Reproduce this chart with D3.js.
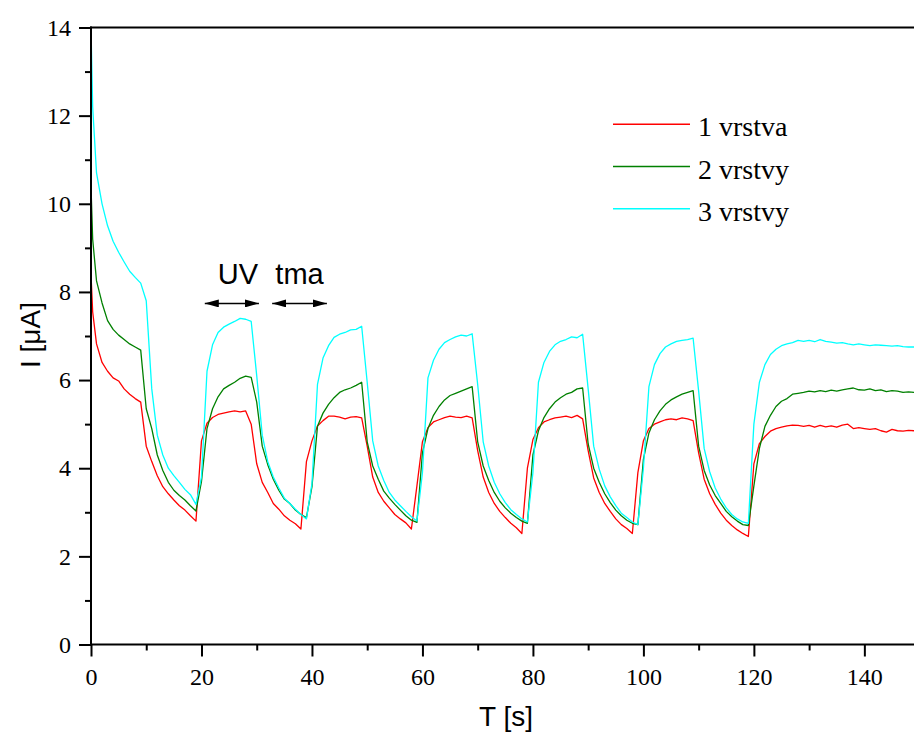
<!DOCTYPE html>
<html>
<head>
<meta charset="utf-8">
<script src="https://cdn.jsdelivr.net/npm/d3@7"></script>
<style>
html, body { margin: 0; padding: 0; background: #fff; }
svg { display: block; }
</style>
</head>
<body>
<svg id="chart" width="914" height="733"></svg>
<script>
// ---- data ----
const time = [0, 0.3, 1, 2, 3, 4, 5, 6, 7, 8,
  9, 10, 11, 12, 13, 14, 15, 16, 17, 18,
  19, 20, 21, 22, 23, 24, 25, 26, 27, 28,
  29, 30, 31, 32, 33, 34, 35, 36, 37, 38,
  39, 40, 41, 42, 43, 44, 45, 46, 47, 48,
  49, 50, 51, 52, 53, 54, 55, 56, 57, 58,
  59, 60, 61, 62, 63, 64, 65, 66, 67, 68,
  69, 70, 71, 72, 73, 74, 75, 76, 77, 78,
  79, 80, 81, 82, 83, 84, 85, 86, 87, 88,
  89, 90, 91, 92, 93, 94, 95, 96, 97, 98,
  99, 100, 101, 102, 103, 104, 105, 106, 107, 108,
  109, 110, 111, 112, 113, 114, 115, 116, 117, 118,
  119, 120, 121, 122, 123, 124, 125, 126, 127, 128,
  129, 130, 131, 132, 133, 134, 135, 136, 137, 138,
  139, 140, 141, 142, 143, 144, 145, 146, 147, 148,
  149, 150];

const vrstva1 = [8.4, 7.55, 6.82, 6.4, 6.2, 6.05, 5.98, 5.8, 5.68, 5.58,
  5.5, 4.5, 4.15, 3.83, 3.58, 3.42, 3.28, 3.15, 3.05, 2.92,
  2.8, 4.62, 5.02, 5.15, 5.22, 5.25, 5.28, 5.3, 5.28, 5.3,
  5.0, 4.1, 3.68, 3.45, 3.2, 3.07, 2.92, 2.82, 2.74, 2.62,
  4.15, 4.62, 4.96, 5.08, 5.18, 5.18, 5.16, 5.12, 5.16, 5.17,
  5.14, 4.5, 3.8, 3.45, 3.25, 3.1, 2.95, 2.85, 2.76, 2.62,
  3.6, 4.6, 4.92, 5.05, 5.1, 5.15, 5.18, 5.16, 5.15, 5.18,
  5.14, 4.4, 3.8, 3.45, 3.2, 3.02, 2.88, 2.75, 2.65, 2.52,
  4.0, 4.65, 4.92, 5.05, 5.1, 5.14, 5.16, 5.18, 5.15, 5.2,
  5.12, 4.4, 3.78, 3.45, 3.2, 3.02, 2.85, 2.72, 2.63, 2.52,
  3.9, 4.62, 4.9, 5.0, 5.05, 5.1, 5.12, 5.1, 5.14, 5.12,
  5.08, 4.35, 3.75, 3.42, 3.18, 2.98, 2.82, 2.7, 2.6, 2.52,
  2.45, 4.1, 4.56, 4.72, 4.84, 4.9, 4.93, 4.96, 4.98, 4.97,
  4.95, 4.97, 4.93, 4.97, 4.94, 4.96, 4.93, 4.98, 5.0, 4.9,
  4.92, 4.9, 4.88, 4.9, 4.85, 4.82, 4.88, 4.85, 4.84, 4.86,
  4.85, 4.85];

const vrstvy2 = [10.4, 9.2, 8.25, 7.75, 7.35, 7.15, 7.02, 6.92, 6.82, 6.75,
  6.68, 5.35, 4.9, 4.3, 3.95, 3.68, 3.5, 3.38, 3.28, 3.15,
  3.03, 3.7, 4.9, 5.35, 5.62, 5.8, 5.88, 5.95, 6.04, 6.09,
  6.06, 5.5, 4.5, 4.08, 3.75, 3.5, 3.3, 3.2, 3.05, 2.95,
  2.88, 3.58, 4.95, 5.25, 5.45, 5.6, 5.72, 5.78, 5.82, 5.88,
  5.95, 4.6, 4.05, 3.75, 3.48, 3.32, 3.18, 3.05, 2.92, 2.82,
  2.77, 4.35, 4.9, 5.2, 5.4, 5.55, 5.65, 5.7, 5.75, 5.8,
  5.85, 4.6, 4.05, 3.72, 3.45, 3.25, 3.1, 2.98, 2.88, 2.8,
  2.75, 4.3, 4.85, 5.15, 5.35, 5.5, 5.6, 5.68, 5.72, 5.8,
  5.82, 4.55, 4.0, 3.68, 3.42, 3.22, 3.05, 2.92, 2.82, 2.75,
  2.72, 4.2, 4.8, 5.1, 5.3, 5.45, 5.55, 5.62, 5.68, 5.72,
  5.76, 4.5, 3.95, 3.62, 3.38, 3.2, 3.02, 2.9, 2.8, 2.72,
  2.7, 3.6, 4.45, 4.95, 5.2, 5.4, 5.52, 5.58, 5.68, 5.7,
  5.72, 5.75, 5.73, 5.76, 5.74, 5.77, 5.75, 5.78, 5.8, 5.82,
  5.78, 5.77, 5.8, 5.76, 5.78, 5.74, 5.76, 5.75, 5.72, 5.73,
  5.72, 5.72];

const vrstvy3 = [14.0, 12.2, 10.7, 10.0, 9.5, 9.15, 8.9, 8.68, 8.47, 8.33,
  8.2, 7.8, 5.8, 4.75, 4.3, 4.0, 3.83, 3.68, 3.52, 3.4,
  3.18, 3.8, 6.2, 6.8, 7.08, 7.2, 7.27, 7.33, 7.4, 7.38,
  7.33, 6.1, 4.75, 4.15, 3.8, 3.55, 3.32, 3.2, 3.07, 2.95,
  2.85, 3.65, 5.9, 6.5, 6.78, 6.97, 7.04, 7.08, 7.14, 7.15,
  7.22, 5.95, 4.62, 4.05, 3.72, 3.45, 3.28, 3.15, 3.02, 2.9,
  2.8, 3.9, 6.05, 6.45, 6.7, 6.85, 6.92, 6.98, 7.02, 7.0,
  7.05, 5.9, 4.6, 4.05, 3.68, 3.42, 3.22, 3.06, 2.95, 2.85,
  2.78, 3.9, 5.95, 6.4, 6.65, 6.8, 6.88, 6.92, 6.98, 6.96,
  7.04, 5.8, 4.5, 3.98, 3.6, 3.35, 3.15, 2.98, 2.88, 2.78,
  2.72, 4.0, 5.85, 6.35, 6.6, 6.75, 6.82, 6.88, 6.9, 6.92,
  6.95, 5.75, 4.45, 3.92, 3.55, 3.3, 3.1, 2.95, 2.85, 2.78,
  2.75, 5.0, 5.95, 6.35, 6.58, 6.7, 6.78, 6.82, 6.85, 6.9,
  6.88, 6.9, 6.87, 6.92, 6.88, 6.86, 6.84, 6.85, 6.82, 6.8,
  6.82, 6.8, 6.78, 6.8, 6.79, 6.78, 6.77, 6.78, 6.76, 6.75,
  6.75, 6.75];

const seriesNames = ["1 vrstva", "2 vrstvy", "3 vrstvy"];
const seriesColors = ["#ff0000", "#008000", "#00ffff"];
const seriesValues = [vrstva1, vrstvy2, vrstvy3];

const xMajorTicks = [0, 20, 40, 60, 80, 100, 120, 140];
const xMinorTicks = [10, 30, 50, 70, 90, 110, 130, 150];
const yMajorTicks = [0, 2, 4, 6, 8, 10, 12, 14];
const yMinorTicks = [1, 3, 5, 7, 9, 11, 13];

// annotation: UV / tma periods (data coords)
const annoLabels = ["UV", "tma"];
const annoStart = [20.6, 32.8];
const annoEnd = [30.4, 42.7];
const annoArrowY = 7.74;
const annoTextY = 8.18;

// ---- drawing ----
const W = 914, H = 733;
const svg = d3.select("#chart");
const x = d3.scaleLinear().domain([0, 150]).range([91, 919.6]);
const y = d3.scaleLinear().domain([0, 14]).range([644.5, 27.5]);

const defs = svg.append("defs");
defs.append("clipPath").attr("id", "plotclip")
  .append("rect").attr("x", 91).attr("y", 26).attr("width", 840).attr("height", 619);

// lines
const line = d3.line().x((d, i) => x(time[i])).y(d => y(d));
const plot = svg.append("g").attr("clip-path", "url(#plotclip)");
seriesValues.forEach((vals, k) => {
  plot.append("path")
    .datum(vals)
    .attr("d", line)
    .attr("fill", "none")
    .attr("stroke", seriesColors[k])
    .attr("stroke-width", 1.3)
    .attr("stroke-linejoin", "round");
});

// axes
const serif = "'Liberation Serif', 'Times New Roman', serif";
const sans = "'Liberation Sans', Arial, sans-serif";

const xAxisMajor = d3.axisBottom(x).tickValues(xMajorTicks).tickSize(12).tickSizeOuter(0).tickPadding(6);
const xAxisMinor = d3.axisBottom(x).tickValues(xMinorTicks).tickSize(6).tickFormat("").tickSizeOuter(0);
const yAxisMajor = d3.axisLeft(y).tickValues(yMajorTicks).tickSize(12).tickSizeOuter(0).tickPadding(8);
const yAxisMinor = d3.axisLeft(y).tickValues(yMinorTicks).tickSize(6).tickFormat("").tickSizeOuter(0);

function styleAxis(g) {
  g.select(".domain").remove();
  g.selectAll(".tick line").attr("stroke", "#000").attr("stroke-width", 2);
  g.selectAll(".tick text").attr("fill", "#000").style("font-family", serif).style("font-size", "24px");
}

const gxMinor = svg.append("g").attr("transform", `translate(0,${y(0)})`).call(xAxisMinor).call(styleAxis);
const gxMajor = svg.append("g").attr("transform", `translate(0,${y(0)})`).call(xAxisMajor).call(styleAxis);
gxMajor.selectAll(".tick text").attr("dy", "0.95em");
const gyMinor = svg.append("g").attr("transform", `translate(${x(0)},0)`).call(yAxisMinor).call(styleAxis);
const gyMajor = svg.append("g").attr("transform", `translate(${x(0)},0)`).call(yAxisMajor).call(styleAxis);

// frame lines
svg.append("line").attr("x1", x(0) - 1).attr("x2", W).attr("y1", y(0)).attr("y2", y(0))
  .attr("stroke", "#000").attr("stroke-width", 2);
svg.append("line").attr("x1", x(0)).attr("x2", x(0)).attr("y1", y(14) - 1).attr("y2", y(0) + 1)
  .attr("stroke", "#000").attr("stroke-width", 2);
svg.append("line").attr("x1", x(0) - 1).attr("x2", W).attr("y1", y(14)).attr("y2", y(14))
  .attr("stroke", "#000").attr("stroke-width", 2);

// axis titles
svg.append("text").attr("x", 506).attr("y", 726).attr("text-anchor", "middle")
  .style("font-family", sans).style("font-size", "28px").text("T [s]");
svg.append("text").attr("transform", "translate(40,335) rotate(-90)").attr("text-anchor", "middle")
  .style("font-family", sans).style("font-size", "28px").text("I [\u03bcA]");

// legend
const legend = svg.append("g");
const legendY = [124.3, 166.5, 208.7];
seriesNames.forEach((name, k) => {
  legend.append("line").attr("x1", 613).attr("x2", 690).attr("y1", legendY[k]).attr("y2", legendY[k])
    .attr("stroke", seriesColors[k]).attr("stroke-width", 1.5);
  legend.append("text").attr("x", 698).attr("y", legendY[k] + 12)
    .style("font-family", serif).style("font-size", "28px").text(name);
});

// annotations
defs.append("marker").attr("id", "ah").attr("viewBox", "0 0 14 8").attr("refX", 14).attr("refY", 4)
  .attr("markerWidth", 14).attr("markerHeight", 8).attr("markerUnits", "userSpaceOnUse")
  .attr("orient", "auto-start-reverse")
  .append("path").attr("d", "M0,0 L14,4 L0,8 Z").attr("fill", "#000");

annoLabels.forEach((lab, k) => {
  svg.append("line")
    .attr("x1", x(annoStart[k])).attr("x2", x(annoEnd[k]))
    .attr("y1", y(annoArrowY)).attr("y2", y(annoArrowY))
    .attr("stroke", "#000").attr("stroke-width", 1.5)
    .attr("marker-start", "url(#ah)").attr("marker-end", "url(#ah)");
  svg.append("text")
    .attr("x", (x(annoStart[k]) + x(annoEnd[k])) / 2 + (k === 0 ? 6 : 0))
    .attr("y", y(annoTextY))
    .attr("text-anchor", "middle")
    .style("font-family", sans).style("font-size", "29px").text(lab);
});
</script>
</body>
</html>
